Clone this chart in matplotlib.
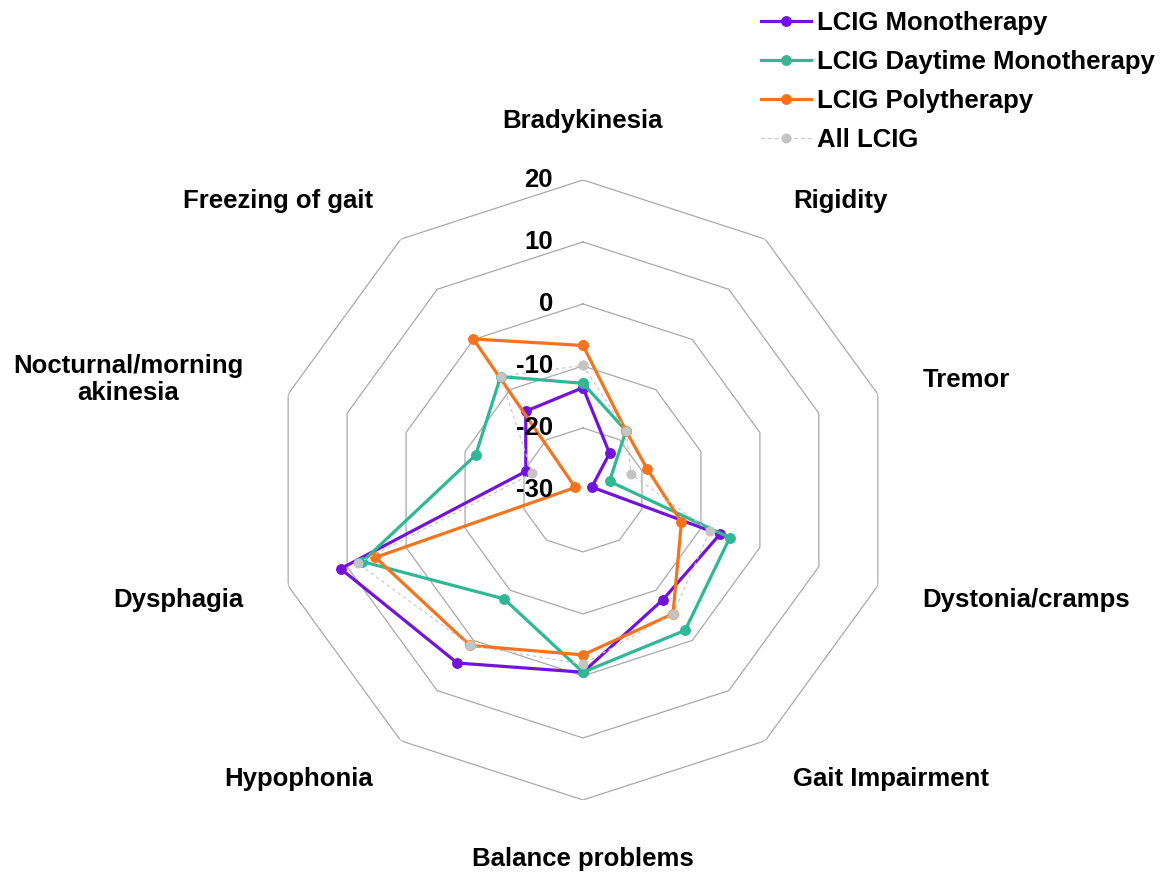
import numpy as np
import matplotlib
matplotlib.use('Agg')
import matplotlib.pyplot as plt

plt.rcParams['font.family'] = ['Liberation Sans', 'DejaVu Sans']
plt.rcParams['font.weight'] = 'bold'

# categories, clockwise from the top
categories = ['Bradykinesia', 'Rigidity', 'Tremor', 'Dystonia/cramps', 'Gait Impairment',
              'Balance problems', 'Hypophonia', 'Dysphagia', 'Nocturnal/morning\nakinesia',
              'Freezing of gait']

mono = [-13.5, -22.7, -28.5, -6.8, -8.1, -0.6, 4.5, 11.1, -20.3, -14.3]
daytime = [-12.8, -18.2, -25.5, -5.1, -2.0, -0.6, -8.3, 7.4, -11.8, -7.4]
poly = [-6.7, -18.2, -19.1, -13.3, -5.3, -3.4, 1.0, 5.2, -28.7, 0.1]
all_lcig = [-9.9, -18.2, -21.8, -8.5, -5.3, -1.9, 1.0, 8.2, -21.4, -7.4]

series_names = ['LCIG Monotherapy', 'LCIG Daytime Monotherapy', 'LCIG Polytherapy', 'All LCIG']
ring_values = [-30, -20, -10, 0, 10, 20]

FS = 18.5

n = len(categories)
theta = np.arange(n) * 2 * np.pi / n
theta_c = np.append(theta, theta[0])

def closed(v):
    return np.append(v, v[0])

fig = plt.figure(figsize=(11.69, 8.82), dpi=100)
ax = fig.add_axes([0.2335, 0.093, 0.5304, 0.703], projection='polar')
ax.set_theta_zero_location('N')
ax.set_theta_direction(-1)
ax.set_rlim(-30, 20)
ax.grid(False)
ax.spines['polar'].set_visible(False)
ax.set_xticks([])
ax.set_yticks([])
ax.patch.set_alpha(0)

# decagon rings
for v in ring_values[1:]:
    ax.plot(theta_c, [v] * (n + 1), color='#A9A9A9', lw=0.9, zorder=1)

# radial value labels
for v in ring_values:
    ax.annotate(str(v), xy=(0, v), xytext=(-21.5, 0), textcoords='offset points',
                ha='right', va='center', fontsize=FS, fontweight='bold', zorder=10,
                annotation_clip=False)

ax.plot(theta_c, closed(mono), color='#7313DA', lw=2.3, marker='o', ms=6.8,
        label=series_names[0], zorder=3)
ax.plot(theta_c, closed(daytime), color='#2EB896', lw=2.3, marker='o', ms=6.8,
        label=series_names[1], zorder=4)
ax.plot(theta_c, closed(poly), color='#F4731E', lw=2.3, marker='o', ms=6.8,
        label=series_names[2], zorder=5)
ax.plot(theta_c, closed(all_lcig), color='#C4C4C4', lw=0.8, ls=(0, (3, 3)), marker='o', ms=6.2,
        label=series_names[3], zorder=6)

# category labels
label_r = 27.6
for i, (t, name) in enumerate(zip(theta, categories)):
    if i == 0:
        ha, va = 'center', 'bottom'
    elif i == 5:
        ha, va = 'center', 'top'
    elif i < 5:
        ha, va = 'left', 'center'
    else:
        ha, va = 'right', 'center'
    ax.annotate(name, xy=(t, label_r), ha=ha, va=va, ma='center', fontsize=FS,
                fontweight='bold', annotation_clip=False)

fig.legend(loc='upper left', bbox_to_anchor=(761 / 1169, 1 - 11 / 882), frameon=False,
           fontsize=FS, handlelength=1.95, handletextpad=0.23, labelspacing=0.58,
           borderpad=0, borderaxespad=0)

fig.savefig('out.png', dpi=100)
